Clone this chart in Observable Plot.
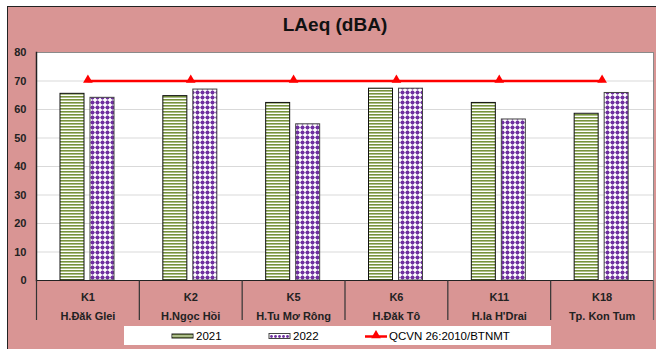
<!DOCTYPE html>
<html>
<head>
<meta charset="utf-8">
<script src="https://cdn.jsdelivr.net/npm/d3@7"></script>
<script src="https://cdn.jsdelivr.net/npm/@observablehq/plot@0.6"></script>
<style>
  html, body { margin: 0; padding: 0; background: #fff; }
  #wrap { position: relative; width: 656px; height: 349px; overflow: hidden; font-family: "Liberation Sans", Arial, sans-serif; }
  #bg { position: absolute; left: 7px; top: 6px; right: 0; bottom: 0; background: #D99594; border-left: 1.5px solid #222; border-top: 1.5px solid #222; }
  #title { position: absolute; left: 0; width: 670px; top: 14px; text-align: center; font-weight: bold; font-size: 19px; color: #111; }
  #chart { position: absolute; left: 0; top: 0; }
  #legend { position: absolute; left: 124px; top: 326px; width: 427px; height: 19px; background: #fff; font-size: 11.5px; color: #000; }
  .item { position: absolute; top: 2px; display: flex; align-items: center; height: 15px; }
  .item svg { margin-right: 1px; }
</style>
</head>
<body>
<div id="wrap">
  <div id="bg"></div>
  <div id="chart"></div>
  <div id="title">LAeq (dBA)</div>
  <div id="legend"></div>
</div>
<script>
const categories = ["K1", "K2", "K5", "K6", "K11", "K18"];
const locations = ["H.Đăk Glei", "H.Ngọc Hồi", "H.Tu Mơ Rông", "H.Đăk Tô", "H.Ia H'Drai", "Tp. Kon Tum"];
const values2021 = [65.5, 64.7, 62.3, 67.3, 62.3, 58.5];
const values2022 = [64.1, 67.0, 54.8, 67.3, 56.5, 65.8];
const standard = [70, 70, 70, 70, 70, 70];
const yTicks = [0, 10, 20, 30, 40, 50, 60, 70, 80];
const seriesNames = ["2021", "2022", "QCVN 26:2010/BTNMT"];

const W = 656, H = 349;
const mL = 36, mR = 3, mT = 52, mB = 69;
const bw = (W - mL - mR) / categories.length;

const rows2021 = categories.map((c, i) => ({cat: c, v: values2021[i]}));
const rows2022 = categories.map((c, i) => ({cat: c, v: values2022[i]}));
const rowsStd = categories.map((c, i) => ({cat: c, v: standard[i]}));
const labelOf = Object.fromEntries(categories.map((c, i) => [c, c + "\n" + locations[i]]));

const font = '"Liberation Sans", Arial, sans-serif';

const chart = Plot.plot({
  width: W, height: H,
  marginLeft: mL, marginRight: mR, marginTop: mT, marginBottom: mB,
  style: {background: "transparent", fontFamily: font, overflow: "visible"},
  x: {type: "band", domain: categories, padding: 0, round: false},
  y: {domain: [0, 80]},
  marks: [
    Plot.frame({fill: "white", stroke: "#8a8a8a"}),
    Plot.gridY(yTicks.filter(t => t > 0 && t < 80), {stroke: "#d9d9d9", strokeOpacity: 1, strokeWidth: 1}),
    Plot.barY(rows2021, {x: "cat", y: "v", fill: "url(#stripes)", stroke: "#111", strokeWidth: 1,
      insetLeft: 24, insetRight: bw - 48}),
    Plot.barY(rows2022, {x: "cat", y: "v", fill: "url(#dots)", stroke: "#444", strokeWidth: 1,
      insetLeft: 54, insetRight: bw - 78}),
    Plot.lineY(rowsStd, {x: "cat", y: "v", stroke: "#ff0000", strokeWidth: 2.5}),
    Plot.dot(rowsStd, {x: "cat", y: "v", symbol: "triangle", r: 3.6, fill: "#ff0000", dy: -1}),
    Plot.ruleY([0], {stroke: "#222", strokeWidth: 1}),
    Plot.frame({anchor: "left", stroke: "#222", strokeWidth: 1.5}),
    Plot.axisY({ticks: yTicks, tickSize: 0, tickPadding: 10, fontSize: 11, fontWeight: "bold", fill: "#222", label: null}),
    Plot.axisX({tickSize: 0, tickPadding: 7, fontSize: 11, fontWeight: "bold", fill: "#222",
      tickFormat: d => labelOf[d], lineHeight: 1.75, label: null}),
    Plot.axisX({tickSize: 40, text: null, dx: -bw / 2, stroke: "#333", strokeWidth: 1.2, label: null}),
    Plot.axisX({ticks: [categories[categories.length - 1]], tickSize: 40, text: null, dx: bw / 2, stroke: "#666", strokeWidth: 1.2, label: null})
  ]
});

// patterns
const svg = d3.select(chart);
const defs = svg.insert("defs", ":first-child");
const st = defs.append("pattern").attr("id", "stripes").attr("patternUnits", "userSpaceOnUse")
  .attr("width", 4).attr("height", 3);
st.append("rect").attr("width", 4).attr("height", 3).attr("fill", "#fff");
st.append("rect").attr("y", 0).attr("width", 4).attr("height", 1.6).attr("fill", "#77933C");
const dt = defs.append("pattern").attr("id", "dots").attr("patternUnits", "userSpaceOnUse")
  .attr("width", 5).attr("height", 5);
dt.append("rect").attr("width", 5).attr("height", 5).attr("fill", "#fff");
dt.append("path").attr("d", "M0,2.5H5M2.5,0V5").attr("stroke", "#a88cc8").attr("stroke-width", 0.6);
dt.append("circle").attr("cx", 2.5).attr("cy", 2.5).attr("r", 2).attr("fill", "#7030A0");
document.getElementById("chart").appendChild(chart);

// legend
const legend = d3.select("#legend");
function item(x, drawSwatch, label) {
  const it = legend.append("div").attr("class", "item").style("left", x + "px");
  const s = it.append("svg").attr("width", 24).attr("height", 12);
  drawSwatch(s);
  it.append("span").text(label);
}
item(47, s => {
  s.append("rect").attr("x", 1).attr("y", 4).attr("width", 21).attr("height", 4)
    .attr("fill", "#77933C").attr("stroke", "#222").attr("stroke-width", 1);
  s.append("line").attr("x1", 1).attr("x2", 22).attr("y1", 6).attr("y2", 6).attr("stroke", "#fff").attr("stroke-width", 0.8);
}, seriesNames[0]);
item(144, s => {
  s.append("rect").attr("x", 1).attr("y", 3.5).attr("width", 21).attr("height", 5)
    .attr("fill", "#fff").attr("stroke", "#444").attr("stroke-width", 1);
  for (let cx = 3.5; cx < 22; cx += 4) s.append("circle").attr("cx", cx).attr("cy", 6.5).attr("r", 1.4).attr("fill", "#7030A0");
}, seriesNames[1]);
item(240, s => {
  s.append("line").attr("x1", 1).attr("x2", 23).attr("y1", 6.5).attr("y2", 6.5).attr("stroke", "#ff0000").attr("stroke-width", 2.5);
  s.append("path").attr("d", d3.symbol(d3.symbolTriangle, 40)()).attr("transform", "translate(12,5.5)").attr("fill", "#ff0000");
}, seriesNames[2]);
</script>
</body>
</html>
